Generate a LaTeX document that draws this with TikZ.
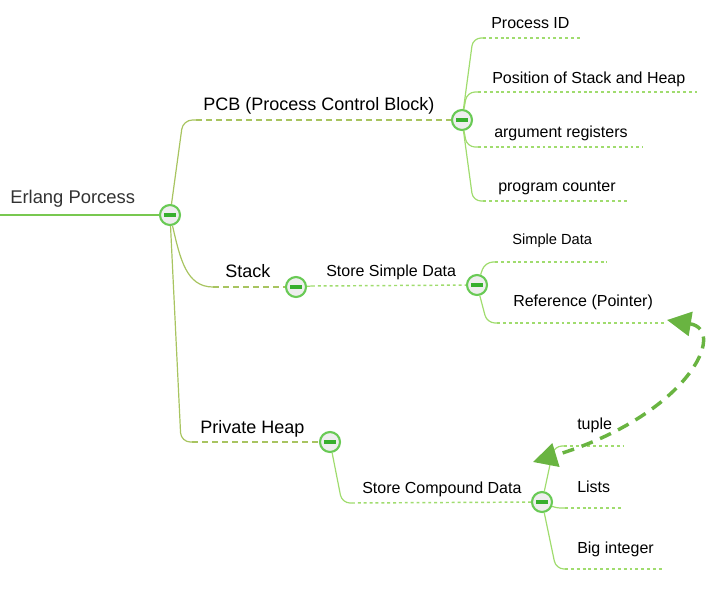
\documentclass[tikz,border=0pt]{standalone}
\usepackage{fontspec}
\setmainfont{Liberation Sans}
\usetikzlibrary{arrows.meta}
\definecolor{lvone}{RGB}{168,196,96}
\definecolor{lvtwo}{RGB}{160,220,110}
\definecolor{ring}{RGB}{105,202,85}
\definecolor{bar}{RGB}{55,175,45}
\definecolor{arrowg}{RGB}{105,180,65}
\definecolor{rootg}{RGB}{120,200,80}
\definecolor{txtgray}{RGB}{50,50,50}
\definecolor{tglfill}{RGB}{238,238,238}
\newcommand\tglbar{\textcolor{bar}{\rule[-1.2pt]{8.6pt}{2.4pt}}}
\pgfdeclarelayer{bg}
\pgfsetlayers{bg,main}
\begin{document}
\begin{tikzpicture}[x=0.75pt,y=-0.75pt,
 toggle/.style={circle,draw=ring,line width=1.6pt,fill=tglfill,minimum size=15pt,inner sep=0pt},
 rootline/.style={draw=rootg,line width=1.1pt},
 curveA/.style={draw=lvone,line width=0.9pt,rounded corners=7pt},
 lineA/.style={draw=lvone,line width=1.1pt,dash pattern=on 4.5pt off 3pt},
 curveB/.style={draw=lvtwo,line width=0.9pt,rounded corners=6pt},
 lineB/.style={draw=lvtwo,line width=1.1pt,dash pattern=on 2.2pt off 2.2pt},
 lbl/.style={anchor=base west,inner sep=0pt,font=\fontsize{12pt}{14pt}\selectfont},
 small/.style={anchor=base west,inner sep=0pt,font=\fontsize{11pt}{13pt}\selectfont},
 big/.style={anchor=base west,inner sep=0pt,font=\fontsize{13.5pt}{16pt}\selectfont},
 link/.style={draw=arrowg,line width=2.6pt,dash pattern=on 9pt off 6pt,{Triangle[length=18pt,width=18pt]}-{Triangle[length=18pt,width=18pt]}}
]
\useasboundingbox (0,0) rectangle (728,594);

% toggles
\node[toggle] (t0) at (170,215) {\tglbar};
\node[toggle] (t1) at (462,120) {\tglbar};
\node[toggle] (t2) at (296,287) {\tglbar};
\node[toggle] (t3) at (330,442) {\tglbar};
\node[toggle] (t4) at (477,285) {\tglbar};
\node[toggle] (t5) at (542,502) {\tglbar};

% texts
\node[anchor=base west,inner sep=0pt,font=\fontsize{13.8pt}{16pt}\selectfont,text=txtgray] (root) at (10,203) {Erlang Porcess};
\node[big] (pcb) at (203,110) {PCB (Process Control Block)};
\node[big] (stk) at (225,277) {Stack};
\node[big] (ph) at (200,433) {Private Heap};
\node[lbl] (pid) at (491,28) {Process ID};
\node[lbl] (pos) at (492,83) {Position of Stack and Heap};
\node[lbl] (arg) at (494,137) {argument registers};
\node[lbl] (prc) at (498,191) {program counter};
\node[lbl] (ssd) at (326,276) {Store Simple Data};
\node[small] (sd) at (512,244) {Simple Data};
\node[lbl] (ref) at (513,306) {Reference (Pointer)};
\node[lbl] (scd) at (362,493) {Store Compound Data};
\node[lbl] (tup) at (577,429) {tuple};
\node[lbl] (lst) at (577,492) {Lists};
\node[lbl] (bgi) at (577,553) {Big integer};

% coordinates
\coordinate (r0) at (0,215);
\coordinate (pcbS) at (196,120);
\coordinate (stS) at (213,287);
\coordinate (phS) at (192,442);
\coordinate (pidS) at (483,38);  \coordinate (pidE) at (582,38);
\coordinate (posS) at (478,92);  \coordinate (posE) at (697,92);
\coordinate (argS) at (478,147); \coordinate (argE) at (643,147);
\coordinate (prcS) at (483,201); \coordinate (prcE) at (628,201);
\coordinate (ssdS) at (312,286);
\coordinate (sdS) at (495,262);  \coordinate (sdE) at (607,262);
\coordinate (refS) at (497,323); \coordinate (refE) at (665,323);
\coordinate (scdS) at (352,503);
\coordinate (tupS) at (564,446); \coordinate (tupE) at (624,446);
\coordinate (lstS) at (565,508); \coordinate (lstE) at (623,508);
\coordinate (bgiS) at (565,569); \coordinate (bgiE) at (663,569);
\coordinate (aS) at (667,320);
\coordinate (aE) at (533,462);

\begin{pgfonlayer}{bg}
\draw[rootline] (r0) -- (t0);
% level 1
\draw[curveA] (t0) -- (183,120) -- (pcbS);
\draw[lineA] (pcbS) -- (t1);
\draw[curveA,rounded corners=0pt] (t0) .. controls (180,258) and (186,287) .. (stS);
\draw[lineA] (stS) -- (t2);
\draw[curveA] (t0) -- (181,442) -- (phS);
\draw[lineA] (phS) -- (t3);
% PCB children
\draw[curveB] (t1) -- (473,38) -- (pidS);
\draw[lineB] (pidS) -- (pidE);
\draw[curveB] (t1) -- (467,92) -- (posS);
\draw[lineB] (posS) -- (posE);
\draw[curveB] (t1) -- (467,147) -- (argS);
\draw[lineB] (argS) -- (argE);
\draw[curveB] (t1) -- (473,201) -- (prcS);
\draw[lineB] (prcS) -- (prcE);
% stack
\draw[curveB] (t2) -- (ssdS);
\draw[lineB] (ssdS) -- (t4);
\draw[curveB] (t4) -- (485,262) -- (sdS);
\draw[lineB] (sdS) -- (sdE);
\draw[curveB] (t4) -- (487,323) -- (refS);
\draw[lineB] (refS) -- (refE);
% heap
\draw[curveB] (t3) -- (342,503) -- (scdS);
\draw[lineB] (scdS) -- (t5);
\draw[curveB] (t5) -- (554,446) -- (tupS);
\draw[lineB] (tupS) -- (tupE);
\draw[curveB,rounded corners=3pt] (t5) -- (556,508) -- (lstS);
\draw[lineB] (lstS) -- (lstE);
\draw[curveB] (t5) -- (556,569) -- (bgiS);
\draw[lineB] (bgiS) -- (bgiE);
\end{pgfonlayer}

% link arrow
\draw[link] (aS) .. controls (728,330) and (688,415) .. (aE);
\end{tikzpicture}
\end{document}
